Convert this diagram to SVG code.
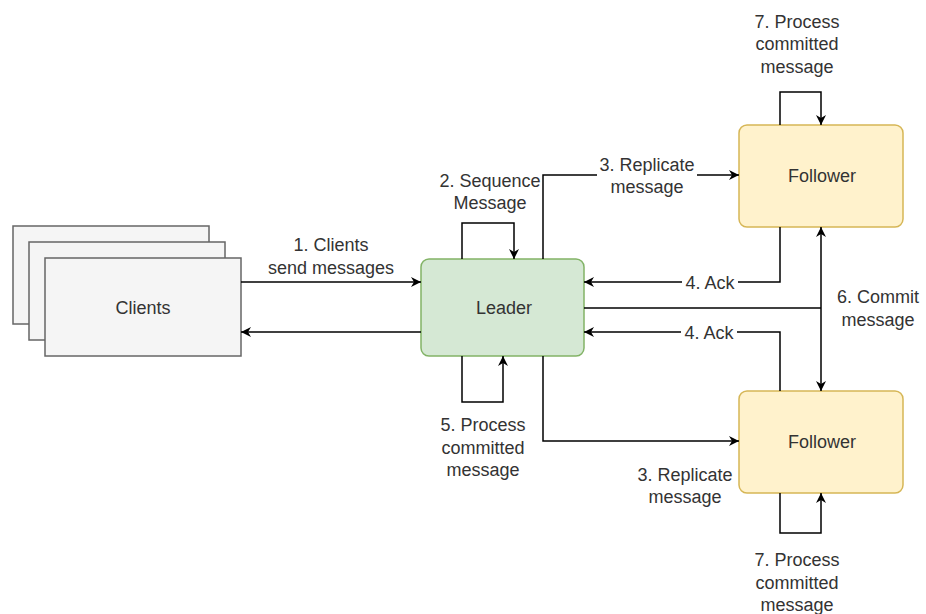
<svg xmlns="http://www.w3.org/2000/svg" width="926" height="614" viewBox="0 0 926 614">
<defs>
<marker id="arr" viewBox="0 0 10 10" refX="10" refY="5" markerWidth="10" markerHeight="10" markerUnits="userSpaceOnUse" orient="auto-start-reverse">
<path d="M0,0 L10,5 L0,10 L3,5 Z" fill="#000"/>
</marker>
<style>
.lbl{font-family:"Liberation Sans",Arial,sans-serif;font-size:18px;fill:#333;text-anchor:middle}
.ttl{font-family:"Liberation Sans",Arial,sans-serif;font-size:18px;fill:#333;text-anchor:middle}
.ln{fill:none;stroke:#000;stroke-width:1.5}
.bg{fill:#fff}
.cl{fill:#f5f5f5;stroke:#666;stroke-width:1.5}
.ld{fill:#d5e8d4;stroke:#82b366;stroke-width:1.5}
.fw{fill:#fff2cc;stroke:#d6b656;stroke-width:1.5}
</style>
</defs>
<rect width="926" height="614" fill="#fff"/>
<g id="clients">
<rect class="cl" x="13" y="226" width="196" height="98"/>
<rect class="cl" x="29" y="242" width="196" height="98"/>
<rect class="cl" x="45" y="258" width="196" height="98"/>
<text class="ttl" x="143" y="314">Clients</text>
</g>
<g id="leader">
<rect class="ld" x="421" y="259" width="163" height="97" rx="8"/>
<text class="ttl" x="504" y="314">Leader</text>
</g>
<g id="follower-top">
<rect class="fw" x="739" y="125" width="164" height="102" rx="8"/>
<text class="ttl" x="822" y="182">Follower</text>
</g>
<g id="follower-bottom">
<rect class="fw" x="739" y="391" width="164" height="102" rx="8"/>
<text class="ttl" x="822" y="448">Follower</text>
</g>
<g id="connectors">
<path class="ln" d="M241,282 L421,282" marker-end="url(#arr)"/>
<path class="ln" d="M421,332 L241,332" marker-end="url(#arr)"/>
<path class="ln" d="M462,259 L462,223 L514,223 L514,259" marker-end="url(#arr)"/>
<path class="ln" d="M543,259 L543,175 L739,175" marker-end="url(#arr)"/>
<path class="ln" d="M780,227 L780,282 L584,282" marker-end="url(#arr)"/>
<path class="ln" d="M780,391 L780,332 L584,332" marker-end="url(#arr)"/>
<path class="ln" d="M584,308 L821,308"/>
<path class="ln" d="M821,227 L821,391" marker-start="url(#arr)" marker-end="url(#arr)"/>
<path class="ln" d="M462,356 L462,402 L503,402 L503,356" marker-end="url(#arr)"/>
<path class="ln" d="M543,356 L543,441 L739,441" marker-end="url(#arr)"/>
<path class="ln" d="M780,125 L780,92 L821,92 L821,125" marker-end="url(#arr)"/>
<path class="ln" d="M780,493 L780,533 L821,533 L821,493" marker-end="url(#arr)"/>
</g>
<g id="labels">
<text class="lbl" x="331" y="251">1. Clients</text>
<text class="lbl" x="331" y="274">send messages</text>
<text class="lbl" x="490" y="187">2. Sequence</text>
<text class="lbl" x="490" y="209">Message</text>
<rect class="bg" x="597" y="155" width="100" height="42"/>
<text class="lbl" x="647" y="171">3. Replicate</text>
<text class="lbl" x="647" y="193">message</text>
<rect class="bg" x="682" y="272" width="56" height="20"/>
<text class="lbl" x="710" y="289">4. Ack</text>
<rect class="bg" x="681" y="322" width="56" height="20"/>
<text class="lbl" x="709" y="339">4. Ack</text>
<rect class="bg" x="833" y="286" width="91" height="44"/>
<text class="lbl" x="878" y="303">6. Commit</text>
<text class="lbl" x="878" y="326">message</text>
<text class="lbl" x="483" y="431">5. Process</text>
<text class="lbl" x="483" y="454">committed</text>
<text class="lbl" x="483" y="476">message</text>
<text class="lbl" x="685" y="481">3. Replicate</text>
<text class="lbl" x="685" y="503">message</text>
<text class="lbl" x="797" y="28">7. Process</text>
<text class="lbl" x="797" y="50">committed</text>
<text class="lbl" x="797" y="73">message</text>
<text class="lbl" x="797" y="566">7. Process</text>
<text class="lbl" x="797" y="589">committed</text>
<text class="lbl" x="797" y="611">message</text>
</g>
</svg>
